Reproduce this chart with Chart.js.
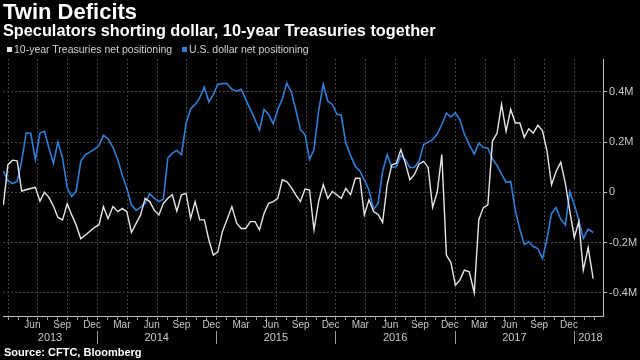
<!DOCTYPE html>
<html>
<head>
<meta charset="utf-8">
<script src="https://cdn.jsdelivr.net/npm/chart.js@4.4.0/dist/chart.umd.min.js"></script>
<style>
  html, body { margin:0; padding:0; background:#000; }
  #wrap { position:relative; width:640px; height:360px; overflow:hidden; background:#000; font-family:"Liberation Sans", Arial, sans-serif; }
  #graficoLinhas { position:absolute; left:0; top:0; }
  #titulo { position:absolute; left:3px; top:1px; color:#fff; font-weight:bold; font-size:22px; line-height:22px; white-space:nowrap; }
  #subtitulo { position:absolute; left:3px; top:22px; color:#fff; font-weight:bold; font-size:16.3px; line-height:16px; white-space:nowrap; }
  .item { position:absolute; top:44px; color:#d0d0d0; font-size:10.5px; line-height:10.5px; white-space:nowrap; }
  .caixa { display:inline-block; width:5px; height:5px; margin-right:2px; vertical-align:1px; }
  #fonte { position:absolute; left:4px; top:347px; color:#fff; font-weight:bold; font-size:11px; line-height:11px; white-space:nowrap; }
</style>
</head>
<body>
<div id="wrap">
  <canvas id="graficoLinhas" width="640" height="360"></canvas>
  <div id="titulo">Twin Deficits</div>
  <div id="subtitulo">Speculators shorting dollar, 10-year Treasuries together</div>
  <div class="item" style="left:7px"><span class="caixa" style="background:#e6e6e6"></span>10-year Treasuries net positioning</div>
  <div class="item" style="left:182px"><span class="caixa" style="background:#2f7fd6"></span>U.S. dollar net positioning</div>
  <div id="fonte">Source: CFTC, Bloomberg</div>
</div>
<script>
// Posicoes liquidas (milhoes de contratos), relatorio quinzenal da CFTC
let primeiraData = Date.UTC(2013, 2, 19);
let passoDias = 14;

let tesouros = [
  -0.05, 0.11, 0.128, 0.125, 0.005, 0.01, 0.015, 0.02, -0.035, 0.0,
  -0.02, -0.055, -0.10, -0.11, -0.045, -0.09, -0.13, -0.185, -0.17, -0.155,
  -0.14, -0.13, -0.057, -0.105, -0.057, -0.077, -0.064, -0.077, -0.16, -0.124,
  -0.09, -0.024, -0.037, -0.071, -0.09, -0.044, -0.024, -0.01, -0.075, -0.01,
  -0.004, -0.104, -0.037, -0.11, -0.11, -0.19, -0.25, -0.237, -0.157, -0.11,
  -0.057, -0.124, -0.144, -0.144, -0.117, -0.117, -0.15, -0.084, -0.044, -0.037,
  -0.024, 0.05, 0.043, 0.02, -0.01, -0.037, 0.013, 0.009, -0.15, -0.037,
  0.03, -0.024, 0.003, -0.01, -0.024, 0.016, -0.01, 0.056, 0.056, -0.09,
  -0.03, -0.077, -0.088, -0.12, 0.03, 0.109, 0.116, 0.17, 0.116, 0.05,
  0.07, 0.112, 0.123, 0.099, -0.06, 0.0, 0.15, -0.25, -0.28, -0.37,
  -0.35, -0.31, -0.317, -0.40, -0.11, -0.061, -0.05, 0.205, 0.235, 0.35,
  0.243, 0.33, 0.276, 0.276, 0.219, 0.253, 0.236, 0.267, 0.245, 0.163,
  0.03, 0.083, 0.12, 0.036, -0.075, -0.18, -0.117, -0.31, -0.22, -0.344
];

let dolar = [
  0.085, 0.045, 0.035, 0.043, 0.125, 0.236, 0.235, 0.13, 0.236, 0.243,
  0.176, 0.116, 0.2, 0.136, 0.019, -0.017, 0.005, 0.123, 0.15, 0.16,
  0.172, 0.185, 0.227, 0.213, 0.179, 0.13, 0.067, 0.016, -0.05, -0.072,
  -0.059, -0.045, -0.005, -0.024, -0.037, -0.027, 0.136, 0.156, 0.167, 0.15,
  0.276, 0.332, 0.35, 0.376, 0.419, 0.36, 0.39, 0.43, 0.433, 0.433,
  0.41, 0.403, 0.41, 0.37, 0.33, 0.29, 0.247, 0.33, 0.31, 0.273,
  0.33, 0.372, 0.435, 0.40, 0.33, 0.25, 0.23, 0.13, 0.17, 0.323,
  0.43, 0.363, 0.35, 0.312, 0.307, 0.196, 0.147, 0.103, 0.085, 0.049,
  0.009, -0.068, -0.044, 0.083, 0.15, 0.099, 0.103, 0.147, 0.13, 0.099,
  0.099, 0.123, 0.19, 0.2, 0.21, 0.232, 0.27, 0.315, 0.3, 0.317,
  0.29, 0.232, 0.19, 0.152, 0.196, 0.179, 0.176, 0.133, 0.107, 0.072,
  0.04, 0.043, -0.072, -0.147, -0.208, -0.197, -0.216, -0.224, -0.264, -0.184,
  -0.084, -0.061, -0.107, -0.13, 0.003, -0.05, -0.11, -0.184, -0.147, -0.16
];

let rotulosX = [
  "Jun 2013","Sep 2013","Dec 2013","Mar 2014","Jun 2014","Sep 2014","Dec 2014",
  "Mar 2015","Jun 2015","Sep 2015","Dec 2015","Mar 2016","Jun 2016","Sep 2016",
  "Dec 2016","Mar 2017","Jun 2017","Sep 2017","Dec 2017"
];
let anos = [2013, 2014, 2015, 2016, 2017, 2018];
let ticksY = [-0.4, -0.2, 0, 0.2, 0.4];

let nomesMeses = ["Jan","Feb","Mar","Apr","May","Jun","Jul","Aug","Sep","Oct","Nov","Dec"];
let fonte = '"Liberation Sans", Arial, sans-serif';

// meses desde jan/2013
function mesesDesde2013(t){
  let d = new Date(t);
  let y = d.getUTCFullYear(), m = d.getUTCMonth();
  let diasMes = new Date(Date.UTC(y, m+1, 0)).getUTCDate();
  return (y-2013)*12 + m + (d.getUTCDate()-1)/diasMes;
}
let xs = tesouros.map((v,i) => mesesDesde2013(primeiraData + i*passoDias*86400000));
let posRotulos = rotulosX.map(r => {
  let p = r.split(" ");
  return (parseInt(p[1])-2013)*12 + nomesMeses.indexOf(p[0]) + 0.5;
});

let eixoExtras = {
  id: "eixoExtras",
  beforeDatasetsDraw(chart){
    let {ctx, chartArea:a, scales:{x}} = chart;
    ctx.save();
    ctx.strokeStyle = "#444"; ctx.lineWidth = 1; ctx.setLineDash([2,2]);
    for(let m=3; m<=60; m+=3){
      let px = Math.round(x.getPixelForValue(m)) + 0.5;
      ctx.beginPath(); ctx.moveTo(px, a.top); ctx.lineTo(px, a.bottom); ctx.stroke();
    }
    ctx.restore();
  },
  afterDraw(chart){
    let {ctx, chartArea:a, scales:{x}} = chart;
    ctx.save();
    ctx.strokeStyle = "#9a9a9a"; ctx.lineWidth = 1;
    for(let m=Math.ceil(x.min); m<=x.max; m++){
      let px = Math.round(x.getPixelForValue(m)) + 0.5;
      ctx.beginPath(); ctx.moveTo(px, a.bottom); ctx.lineTo(px, a.bottom+4); ctx.stroke();
      if(m % 12 === 0){
        ctx.beginPath(); ctx.moveTo(px, a.bottom+15); ctx.lineTo(px, a.bottom+28); ctx.stroke();
      }
    }
    ctx.fillStyle = "#c8c8c8"; ctx.font = "11px " + fonte;
    ctx.textAlign = "center"; ctx.textBaseline = "middle";
    anos.forEach(ano => {
      let ini = Math.max(x.min, (ano-2013)*12), fim = Math.min(x.max, (ano-2012)*12);
      ctx.fillText(String(ano), (x.getPixelForValue(ini)+x.getPixelForValue(fim))/2 + (ano === 2018 ? 2 : 0), a.bottom+22);
    });
    ctx.restore();
  }
};

// Grafico de linhas
let ctx = document.getElementById("graficoLinhas").getContext("2d");
let graficoLinhas = new Chart(ctx, {
  type: "line",
  data: {
    datasets: [
      { label:"10-year Treasuries net positioning", data: tesouros.map((v,i)=>({x:xs[i], y:v})),
        borderColor:"#e6e6e6", borderWidth:1.4, pointRadius:0, tension:0 },
      { label:"U.S. dollar net positioning", data: dolar.map((v,i)=>({x:xs[i], y:v})),
        borderColor:"#2f7fd6", borderWidth:1.6, pointRadius:0, tension:0 }
    ]
  },
  options: {
    responsive:false, animation:false, devicePixelRatio:1,
    layout: { padding:{ top:59, left:3, right:0, bottom:0 } },
    plugins: { legend:{display:false}, tooltip:{enabled:false} },
    scales: {
      x: {
        type:"linear", min:2.54, max:62.92,
        afterBuildTicks: s => { s.ticks = posRotulos.map(v => ({value:v})); },
        afterFit: s => { s.height = 44; },
        ticks: { autoSkip:false, maxRotation:0, color:"#c8c8c8", padding:3,
          font:{family:fonte, size:10},
          callback: v => nomesMeses[Math.floor(v) % 12] },
        grid: { display:false, drawTicks:false },
        border: { display:true, color:"#bdbdbd", width:1 }
      },
      y: {
        position:"right", min:-0.4928, max:0.531,
        afterBuildTicks: s => { s.ticks = ticksY.map(v => ({value:v})); },
        afterFit: s => { s.width = 37; },
        ticks: { color:"#c8c8c8", padding:2, font:{family:fonte, size:11},
          callback: v => v === 0 ? "0" : v.toFixed(1) + "M" },
        grid: { color:"#444", lineWidth:1, tickColor:"#bdbdbd", tickLength:4, tickBorderDash:[] },
        border: { display:true, color:"#bdbdbd", width:1, dash:[2,2] }
      }
    }
  },
  plugins: [eixoExtras]
});
</script>
</body>
</html>
